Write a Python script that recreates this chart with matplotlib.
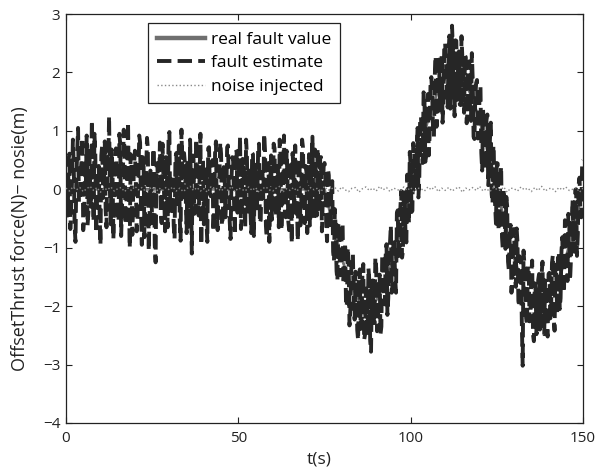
import numpy as np
import matplotlib
matplotlib.use("Agg")
import matplotlib.pyplot as plt

# ---- data ----
# real fault value (sparse, smooth curve)
t_real = [0, 75, 77.5, 80, 82.5, 85, 87.5, 90, 92.5, 95, 97.5,
          100, 102.5, 105, 107.5, 110, 112.5, 115, 117.5, 120, 122.5,
          125, 127.5, 130, 132.5, 135, 137.5, 140, 142.5, 145, 147.5, 150]
real_fault = [0, 0, -0.62, -1.18, -1.62, -1.90, -2.00, -1.90, -1.62, -1.18, -0.62,
              0, 0.62, 1.18, 1.62, 1.90, 2.00, 1.90, 1.62, 1.18, 0.62,
              0, -0.62, -1.18, -1.62, -1.90, -2.00, -1.90, -1.62, -1.18, -0.62, 0]

# fault estimate at t = 0, 0.5, ..., 74.5 s
est_part1 = [
    0.12, -0.45, 0.61, -0.30, 0.85, -0.62, 0.20, 1.05, -0.15, 0.48,
    -0.70, 0.35, 0.92, -0.40, 0.10, 1.18, -0.55, 0.62, -0.20, 0.40,
    -0.95, 0.75, 0.05, -0.35, 0.55, 1.25, -0.60, 0.30, -0.10, 0.70,
    -0.45, 0.95, -0.80, 0.25, 0.58, -0.25, 1.15, -1.00, 0.42, -0.05,
    0.66, -0.72, 0.18, 0.80, -0.95, 0.50, -0.30, 0.88, -1.05, 0.32,
    -0.58, 0.70, -1.25, 0.45, 0.10, -0.40, 0.78, -0.15, 0.55, -0.65,
    0.98, -0.35, 0.25, -0.85, 0.62, 0.04, -0.50, 1.02, -0.20, 0.45,
    -0.75, 0.30, 0.85, -1.10, 0.52, -0.28, 0.68, -0.45, 0.95, 0.15,
    -0.60, 0.40, -0.90, 0.72, -0.12, 0.50, -0.38, 0.82, -0.70, 0.22,
    0.60, -0.48, 0.35, -0.20, 0.75, -0.55, 0.15, 0.48, -0.78, 0.65,
    -0.30, 0.90, -0.42, 0.28, -0.65, 0.55, 0.10, -0.35, 0.62, -0.80,
    0.42, -0.18, 0.78, -0.52, 0.30, 0.95, -0.62, 0.20, -0.90, 0.58,
    -0.25, 0.70, -0.45, 0.38, 0.85, -0.70, 0.12, -0.38, 0.66, -0.55,
    0.48, -0.92, 0.30, 0.75, -0.28, 0.52, -0.62, 0.85, -0.10, 0.40,
    -0.75, 0.60, -0.35, 0.90, -0.50, 0.25, 0.70, -0.40, 0.55, -0.20,
]
# fault estimate at t = 0.25, 0.75, ..., 74.75 s
est_part1_mid = [
    -0.35, 0.52, -0.68, 0.15, 0.40, -0.90, 0.65, -0.22, 0.30, 0.88,
    -0.48, 0.05, -0.62, 0.72, -0.30, 0.45, 0.95, -0.75, 0.20, -0.40,
    0.58, -0.15, 0.82, -0.65, 0.35, -0.05, 0.68, -0.85, 0.48, 0.10,
    -0.55, 0.75, -0.32, 1.02, -0.60, 0.22, -0.18, 0.60, -0.78, 0.42,
    0.15, -0.50, 0.92, -0.35, 0.55, -0.82, 0.28, 0.70, -0.45, 0.05,
    0.65, -0.95, 0.38, -0.12, 0.80, -0.58, 0.25, -0.72, 0.48, 0.90,
    -0.40, 0.18, -0.62, 0.55, -0.25, 0.75, -0.88, 0.32, 0.62, -0.15,
    0.45, -0.68, 0.12, 0.58, -0.42, 0.85, -0.30, 0.20, -0.95, 0.50,
    0.28, -0.55, 0.70, -0.08, 0.40, -0.72, 0.62, -0.35, 0.15, 0.80,
    -0.62, 0.38, -0.48, 0.72, 0.05, -0.85, 0.55, -0.22, 0.68, -0.40,
    0.20, -0.68, 0.52, -0.10, 0.85, -0.45, 0.32, -0.75, 0.60, 0.12,
    -0.38, 0.70, -0.58, 0.25, -0.15, 0.65, -0.82, 0.45, 0.08, -0.52,
    0.78, -0.30, 0.40, -0.65, 0.58, -0.18, 0.92, -0.48, 0.22, -0.70,
    0.35, 0.62, -0.40, 0.15, -0.88, 0.50, -0.25, 0.72, -0.58, 0.30,
    0.05, -0.62, 0.45, -0.32, 0.68, -0.45, 0.18, 0.55, -0.72, 0.38,
]
# fault estimate at t = 75, 75.5, ..., 150 s
est_part2 = [
    0.45, -0.63, 0.35, -0.67, 0.05, -1.07, -0.34, -1.40, -0.61, -1.47,
    -0.68, -1.62, -0.92, -1.96, -1.24, -2.07, -1.14, -2.05, -1.41, -2.41,
    -1.55, -2.39, -1.46, -2.58, -1.70, -2.50, -1.55, -2.78, -1.56, -2.29,
    -1.35, -2.31, -1.46, -2.35, -1.19, -1.97, -0.94, -1.86, -0.92, -1.77,
    -0.83, -1.52, -0.41, -1.20, -0.34, -1.17, -0.05, -0.77, 0.25, -0.58,
    0.40, -0.37, 0.70, 0.02, 1.05, 0.17, 1.24, 0.45, 1.56, 0.57,
    1.63, 0.92, 1.92, 1.01, 1.94, 1.07, 2.14, 1.35, 2.31, 1.51,
    2.50, 1.49, 2.36, 1.38, 2.80, 1.65, 2.55, 1.53, 2.36, 1.44,
    2.25, 1.31, 2.26, 1.35, 2.19, 1.17, 1.89, 0.86, 1.82, 0.87,
    1.73, 0.62, 1.36, 0.35, 1.19, 0.07, 0.85, -0.08, 0.75, -0.27,
    0.45, -0.68, 0.15, -0.82, 0.00, -1.02, -0.29, -1.40, -0.61, -1.52,
    -0.68, -1.67, -0.92, -2.01, -1.19, -3.02, -1.29, -2.20, -1.31, -2.26,
    -1.45, -2.49, -1.61, -2.48, -1.55, -2.40, -1.45, -2.43, -1.56, -2.44,
    -1.45, -2.21, -1.26, -2.20, -1.29, -2.12, -1.09, -1.86, -0.82, -1.72,
    -0.78, -1.57, -0.51, -1.20, -0.19, -1.07, 0.00, -0.77, 0.20, -0.48,
    0.50,
]
# fault estimate at t = 75.25, 75.75, ..., 149.75 s
est_part2_mid = [
    0.24, -0.89, 0.24, -0.64, 0.14, -1.23, -0.69, -1.56, -0.57, -1.47,
    -0.58, -1.42, -2.01, -1.00, -2.33, -1.40, -1.12, -2.23, -1.69, -2.58,
    -1.37, -2.25, -1.28, -2.49, -1.95, -1.35, -2.59, -1.63, -2.20, -1.17,
    -2.43, -1.64, -2.48, -1.12, -1.80, -1.13, -2.15, -1.11, -0.62, -1.63,
    -1.02, -1.77, -0.36, -0.99, -0.03, -1.06, -0.09, -0.91, 0.06, 0.64,
    -0.39, 0.79, 0.01, 0.59, -0.14, 1.23, 0.74, 1.66, 0.47, 1.42,
    0.58, 1.77, 1.61, 0.90, 2.28, 1.30, 2.22, 1.63, 1.14, 2.48,
    2.17, 1.40, 2.63, 1.69, 2.40, 1.25, 2.54, 2.08, 1.45, 2.62,
    1.68, 2.29, 1.13, 2.02, 1.25, 2.33, 0.90, 1.56, 1.87, 0.88,
    1.77, 0.32, 1.11, 0.34, 1.28, 0.31, 1.14, -0.24, 0.24, -0.59,
    0.44, -0.49, 0.39, -1.04, -0.31, -0.13, -1.24, -0.76, -1.77, -0.72,
    -1.43, -0.67, -1.91, -1.15, -2.28, -1.05, -1.62, -2.33, -1.39, -2.18,
    -1.22, -2.60, -1.73, -2.39, -1.45, -2.15, -1.24, -2.48, -1.65, -2.52,
    -1.43, -2.09, -1.13, -2.42, -1.45, -1.08, -2.05, -1.06, -1.77, -0.53,
    -1.22, -0.42, -1.56, -0.54, -1.03, -0.01, -1.14, 0.09, -0.39, 0.44,
]

# noise injected at t = 0, 1, ..., 150 s
noise_injected = [
    0.02, -0.03, 0.04, -0.01, 0.03, -0.04, 0.01, 0.05, -0.02, 0.03,
    -0.05, 0.02, -0.01, 0.04, -0.03, 0.01, 0.03, -0.04, 0.02, -0.02,
    0.05, -0.01, 0.03, -0.03, 0.00, 0.04, -0.05, 0.02, -0.02, 0.03,
    -0.01, 0.04, -0.03, 0.02, -0.04, 0.01, 0.05, -0.02, 0.03, -0.03,
    0.01, -0.05, 0.04, -0.01, 0.02, -0.03, 0.03, -0.02, 0.05, -0.04,
    0.02, 0.00, -0.03, 0.04, -0.02, 0.03, -0.05, 0.01, 0.04, -0.01,
    -0.03, 0.02, 0.05, -0.04, 0.01, -0.02, 0.03, -0.03, 0.04, 0.00,
    -0.05, 0.03, -0.01, 0.02, -0.04, 0.05, -0.02, 0.01, 0.03, -0.03,
    0.04, -0.01, -0.04, 0.02, 0.03, -0.05, 0.01, 0.04, -0.02, 0.02,
    -0.03, 0.05, -0.01, 0.03, -0.04, 0.02, 0.00, -0.03, 0.04, -0.02,
    0.03, -0.05, 0.02, 0.01, -0.03, 0.04, -0.01, 0.05, -0.04, 0.02,
    -0.02, 0.03, -0.03, 0.01, 0.04, -0.05, 0.02, -0.01, 0.03, -0.02,
    0.05, -0.03, 0.01, -0.04, 0.03, 0.00, -0.02, 0.04, -0.05, 0.02,
    0.01, -0.03, 0.04, -0.01, 0.02, -0.04, 0.03, -0.02, 0.05, -0.03,
    0.01, 0.02, -0.04, 0.03, -0.01, 0.04, -0.02, 0.00, 0.03, -0.05,
    0.02,
]

x_ticks = [0, 50, 100, 150]
y_ticks = [-4, -3, -2, -1, 0, 1, 2, 3]

# sample times of each estimate list
t1 = np.arange(len(est_part1)) * 0.5
t1m = t1 + 0.25
t2 = 75 + np.arange(len(est_part2)) * 0.5
t2m = 75.25 + np.arange(len(est_part2_mid)) * 0.5
t_est = np.concatenate([t1, t1m, t2, t2m])
v_est = np.concatenate([est_part1, est_part1_mid, est_part2, est_part2_mid])
order = np.argsort(t_est)
t_est, v_est = t_est[order], v_est[order]
t_noise = np.arange(len(noise_injected)) * 1.0

# ---- plotting ----
plt.rcParams['font.family'] = ['Open Sans', 'DejaVu Sans']
plt.rcParams['font.size'] = 10

fig = plt.figure(figsize=(6.09, 4.74), dpi=100)
ax = fig.add_axes([66 / 609, 1 - 423 / 474, 517 / 609, 409 / 474])

ax.plot(t_real, real_fault, color='#6f6f6f', linestyle='-', linewidth=2.0,
        label='real fault value', zorder=2)
ax.plot(t_est, v_est, color='#262626', linestyle='--', linewidth=2.8,
        label='fault estimate', zorder=3)
ax.plot(t_noise, noise_injected, color='#8a8a8a', linestyle=':', linewidth=1.0,
        label='noise injected', zorder=4)

ax.set_xlim(0, 150)
ax.set_ylim(-4, 3)
ax.set_xticks(x_ticks)
ax.set_yticks(y_ticks)
ax.tick_params(direction='in', top=True, right=True, length=4, width=0.8,
               labelsize=11, colors='#222222')
ax.tick_params(axis='x', pad=6)
ax.tick_params(axis='y', pad=4)
for s in ax.spines.values():
    s.set_linewidth(0.9)
    s.set_color('#222222')

ax.set_xlabel('t(s)', fontsize=12.5, color='#222222')
ax.set_ylabel('OffsetThrust force(N)\u2212 nosie(m)', fontsize=13, color='#222222')
ax.xaxis.set_label_coords(0.49, -0.07)
ax.yaxis.set_label_coords(-0.072, 0.452)

leg = ax.legend(loc='upper left', bbox_to_anchor=(0.159, 0.978),
                fancybox=False, edgecolor='#222222', framealpha=1,
                fontsize=12.5, handlelength=2.8, handletextpad=0.3,
                borderpad=0.5, labelspacing=0.42, borderaxespad=0)
leg.get_frame().set_linewidth(0.9)
leg.legend_handles[0].set_linewidth(3.2)

fig.savefig('out.png', dpi=100)
